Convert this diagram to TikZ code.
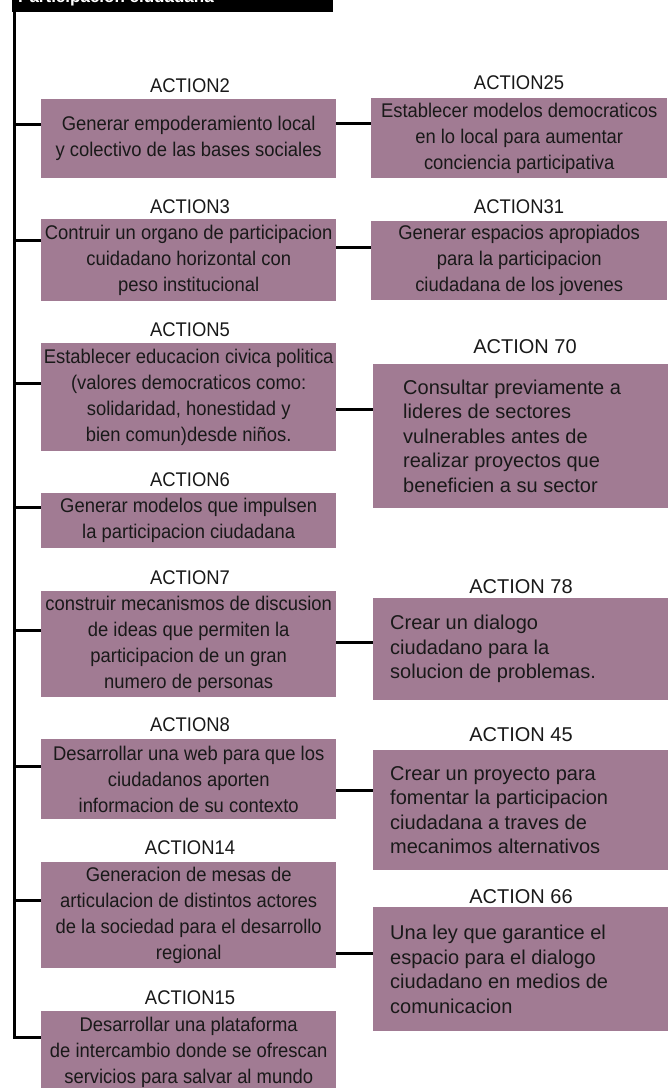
\documentclass[tikz,border=0pt]{standalone}
\usepackage{fontspec}
\setmainfont{Liberation Sans}
\newfontfamily\narrowf[FakeStretch=0.93]{Liberation Sans}
\definecolor{boxc}{RGB}{161,123,147}
\definecolor{txtc}{RGB}{25,25,25}
\tikzset{
 box/.style={fill=boxc, draw=none, inner sep=0pt, anchor=north west},
 ltxt/.style={font=\narrowf\fontsize{19.8}{26}\selectfont, align=center, inner sep=0pt, text=txtc},
 rtxt/.style={font=\fontsize{20}{24.5}\selectfont, align=left, inner sep=0pt, anchor=west, text=txtc},
 lab/.style={font=\narrowf\fontsize{19.8}{22}\selectfont, inner sep=0pt, text=txtc},
 rlab/.style={font=\fontsize{20}{24}\selectfont, inner sep=0pt, text=txtc},
 conn/.style={line width=3pt},
}
\begin{document}
\begin{tikzpicture}[x=1pt,y=-1pt]
\useasboundingbox (0,0) rectangle (669,1088);
\clip (0,0) rectangle (669,1088);
% title
\node[fill=black, inner sep=0pt, anchor=north west, minimum width=321, minimum height=40] (title) at (12,-28) {};
\node[anchor=base west, inner sep=0pt, text=white, font=\bfseries\fontsize{17}{20}\selectfont] (titletxt) at (18,2.5) {Participacion ciudadana};
% left boxes
\node[box, minimum width=295, minimum height=79] (a2) at (41,99) {};
\node[box, minimum width=295, minimum height=82] (a3) at (41,219) {};
\node[box, minimum width=295, minimum height=108] (a5) at (41,343) {};
\node[box, minimum width=295, minimum height=55] (a6) at (41,493) {};
\node[box, minimum width=295, minimum height=106] (a7) at (41,591) {};
\node[box, minimum width=295, minimum height=80] (a8) at (41,739) {};
\node[box, minimum width=295, minimum height=106] (a14) at (41,862) {};
\node[box, minimum width=295, minimum height=82] (a15) at (41,1011) {};
\node[ltxt] (a2t) at (a2.center) {Generar empoderamiento local\\y colectivo de las bases sociales};
\node[ltxt] (a3t) at (a3.center) {Contruir un organo de participacion\\cuidadano horizontal con\\peso institucional};
\node[ltxt] (a5t) at (a5.center) {Establecer educacion civica politica\\(valores democraticos como:\\solidaridad, honestidad y\\bien comun)desde niños.};
\node[ltxt] (a6t) at (a6.center) {Generar modelos que impulsen\\la participacion ciudadana};
\node[ltxt] (a7t) at (a7.center) {construir mecanismos de discusion\\de ideas que permiten la\\participacion de un gran\\numero de personas};
\node[ltxt] (a8t) at (a8.center) {Desarrollar una web para que los\\ciudadanos aporten\\informacion de su contexto};
\node[ltxt] (a14t) at (a14.center) {Generacion de mesas de\\articulacion de distintos actores\\de la sociedad para el desarrollo\\regional};
\node[ltxt] (a15t) at (a15.center) {Desarrollar una plataforma\\de intercambio donde se ofrescan\\servicios para salvar al mundo};
\node[lab] (l2) at (190,86) {ACTION2};
\node[lab] (l3) at (190,207) {ACTION3};
\node[lab] (l5) at (190,330) {ACTION5};
\node[lab] (l6) at (190,480) {ACTION6};
\node[lab] (l7) at (190,578) {ACTION7};
\node[lab] (l8) at (190,725) {ACTION8};
\node[lab] (l14) at (190,848) {ACTION14};
\node[lab] (l15) at (190,998) {ACTION15};
% right boxes
\node[box, minimum width=296, minimum height=80] (r25) at (371,98) {};
\node[box, minimum width=296, minimum height=79] (r31) at (371,221) {};
\node[box, minimum width=295, minimum height=144] (r70) at (373,364) {};
\node[box, minimum width=295, minimum height=102] (r78) at (373,598) {};
\node[box, minimum width=295, minimum height=120] (r45) at (373,750) {};
\node[box, minimum width=295, minimum height=124] (r66) at (373,907) {};
\node[ltxt] (r25t) at (r25.center) {Establecer modelos democraticos\\en lo local para aumentar\\conciencia participativa};
\node[ltxt] (r31t) at (r31.center) {Generar espacios apropiados\\para la participacion\\ciudadana de los jovenes};
\node[rtxt] (r70t) at ([xshift=30pt]r70.west) {Consultar previamente a\\lideres de sectores\\vulnerables antes de\\realizar proyectos que\\beneficien a su sector};
\node[rtxt] (r78t) at ([xshift=17pt]r78.west) {Crear un dialogo\\ciudadano para la\\solucion de problemas.};
\node[rtxt] (r45t) at ([xshift=17pt]r45.west) {Crear un proyecto para\\fomentar la participacion\\ciudadana a traves de\\mecanimos alternativos};
\node[rtxt] (r66t) at ([xshift=17pt]r66.west) {Una ley que garantice el\\espacio para el dialogo\\ciudadano en medios de\\comunicacion};
\node[lab] (l25) at (519,83) {ACTION25};
\node[lab] (l31) at (519,207) {ACTION31};
\node[rlab] (l70) at (525,347) {ACTION 70};
\node[rlab] (l78) at (521,587) {ACTION 78};
\node[rlab] (l45) at (521,735) {ACTION 45};
\node[rlab] (l66) at (521,897) {ACTION 66};
% trunk and left stubs
\coordinate (tk15) at (14,1037);
\draw[conn] (title.south west -| tk15) -- (tk15) -- (tk15 -| a15.west);
\coordinate (tk2) at (14,124);
\coordinate (tk3) at (14,240);
\coordinate (tk5) at (14,383);
\coordinate (tk6) at (14,507);
\coordinate (tk7) at (14,630);
\coordinate (tk8) at (14,766);
\coordinate (tk14) at (14,900);
\draw[conn] (tk2) -- (tk2 -| a2.west);
\draw[conn] (tk3) -- (tk3 -| a3.west);
\draw[conn] (tk5) -- (tk5 -| a5.west);
\draw[conn] (tk6) -- (tk6 -| a6.west);
\draw[conn] (tk7) -- (tk7 -| a7.west);
\draw[conn] (tk8) -- (tk8 -| a8.west);
\draw[conn] (tk14) -- (tk14 -| a14.west);
% right connectors
\coordinate (y25) at (0,123);
\coordinate (y31) at (0,247);
\coordinate (y70) at (0,409);
\coordinate (y78) at (0,642);
\coordinate (y45) at (0,790);
\coordinate (y66) at (0,953);
\draw[conn] (a2.east |- y25) -- (r25.west |- y25);
\draw[conn] (a3.east |- y31) -- (r31.west |- y31);
\draw[conn] (a5.east |- y70) -- (r70.west |- y70);
\draw[conn] (a7.east |- y78) -- (r78.west |- y78);
\draw[conn] (a8.east |- y45) -- (r45.west |- y45);
\draw[conn] (a14.east |- y66) -- (r66.west |- y66);
\end{tikzpicture}
\end{document}
